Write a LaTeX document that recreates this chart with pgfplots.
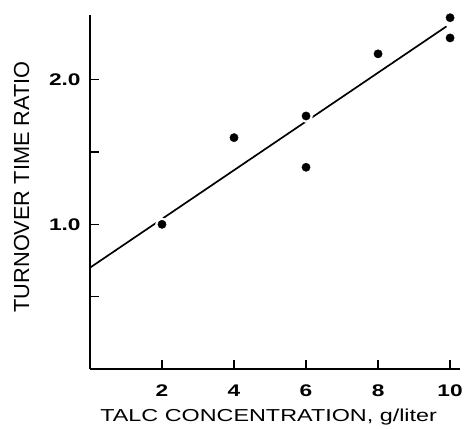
\documentclass[border=0pt]{standalone}
\usepackage{fontspec}
\setmainfont{Liberation Sans}
\newfontfamily\wide[FakeStretch=1.35]{Liberation Sans}
\usepackage{pgfplots}
\pgfplotsset{compat=1.18}
\begin{document}
\begin{tikzpicture}
\begin{axis}[
  scale only axis,
  width=374pt, height=358pt,
  xmin=0, xmax=10.27, ymin=0, ymax=2.45,
  axis lines*=left,
  axis line style={line width=1.8pt},
  tick align=inside,
  major tick length=9pt,
  tick style={line width=1.3pt, black},
  xtick={2,4,6,8,10}, xticklabels={2,4,6,8,10},
  ytick={0.5,1,1.5,2}, yticklabels={,1.0,,2.0},
  ticklabel style={font=\fontsize{17}{19}\selectfont\wide\bfseries},
  xticklabel style={yshift=-13pt},
  yticklabel style={xshift=-6pt},
  every axis x label/.style={at={(axis description cs:0.483,-0.137)},anchor=center},
  every axis y label/.style={at={(axis description cs:-0.185,0.514)},rotate=90,anchor=center},
  xlabel={\fontsize{17.5}{19}\selectfont\wide TALC CONCENTRATION, g/liter},
  ylabel={\fontsize{22}{24}\selectfont TURNOVER TIME RATIO},
  clip=false,
]
\addplot[black, line width=1.7pt] coordinates {(0,0.70) (9.9,2.37)};
\addplot[only marks, mark=*, mark size=6.5pt, white, mark options={draw=white, fill=white}] coordinates {
(2,1.0) (4,1.60) (6,1.75) (6,1.395) (8,2.18) (10,2.43) (10,2.29)};
\addplot[only marks, mark=*, mark size=4.2pt, black, mark options={draw=black, fill=black}] coordinates {
(2,1.0) (4,1.60) (6,1.75) (6,1.395) (8,2.18) (10,2.43) (10,2.29)};
\end{axis}
\useasboundingbox (-91pt,-54pt) rectangle (375pt,373pt);
\end{tikzpicture}
\end{document}
